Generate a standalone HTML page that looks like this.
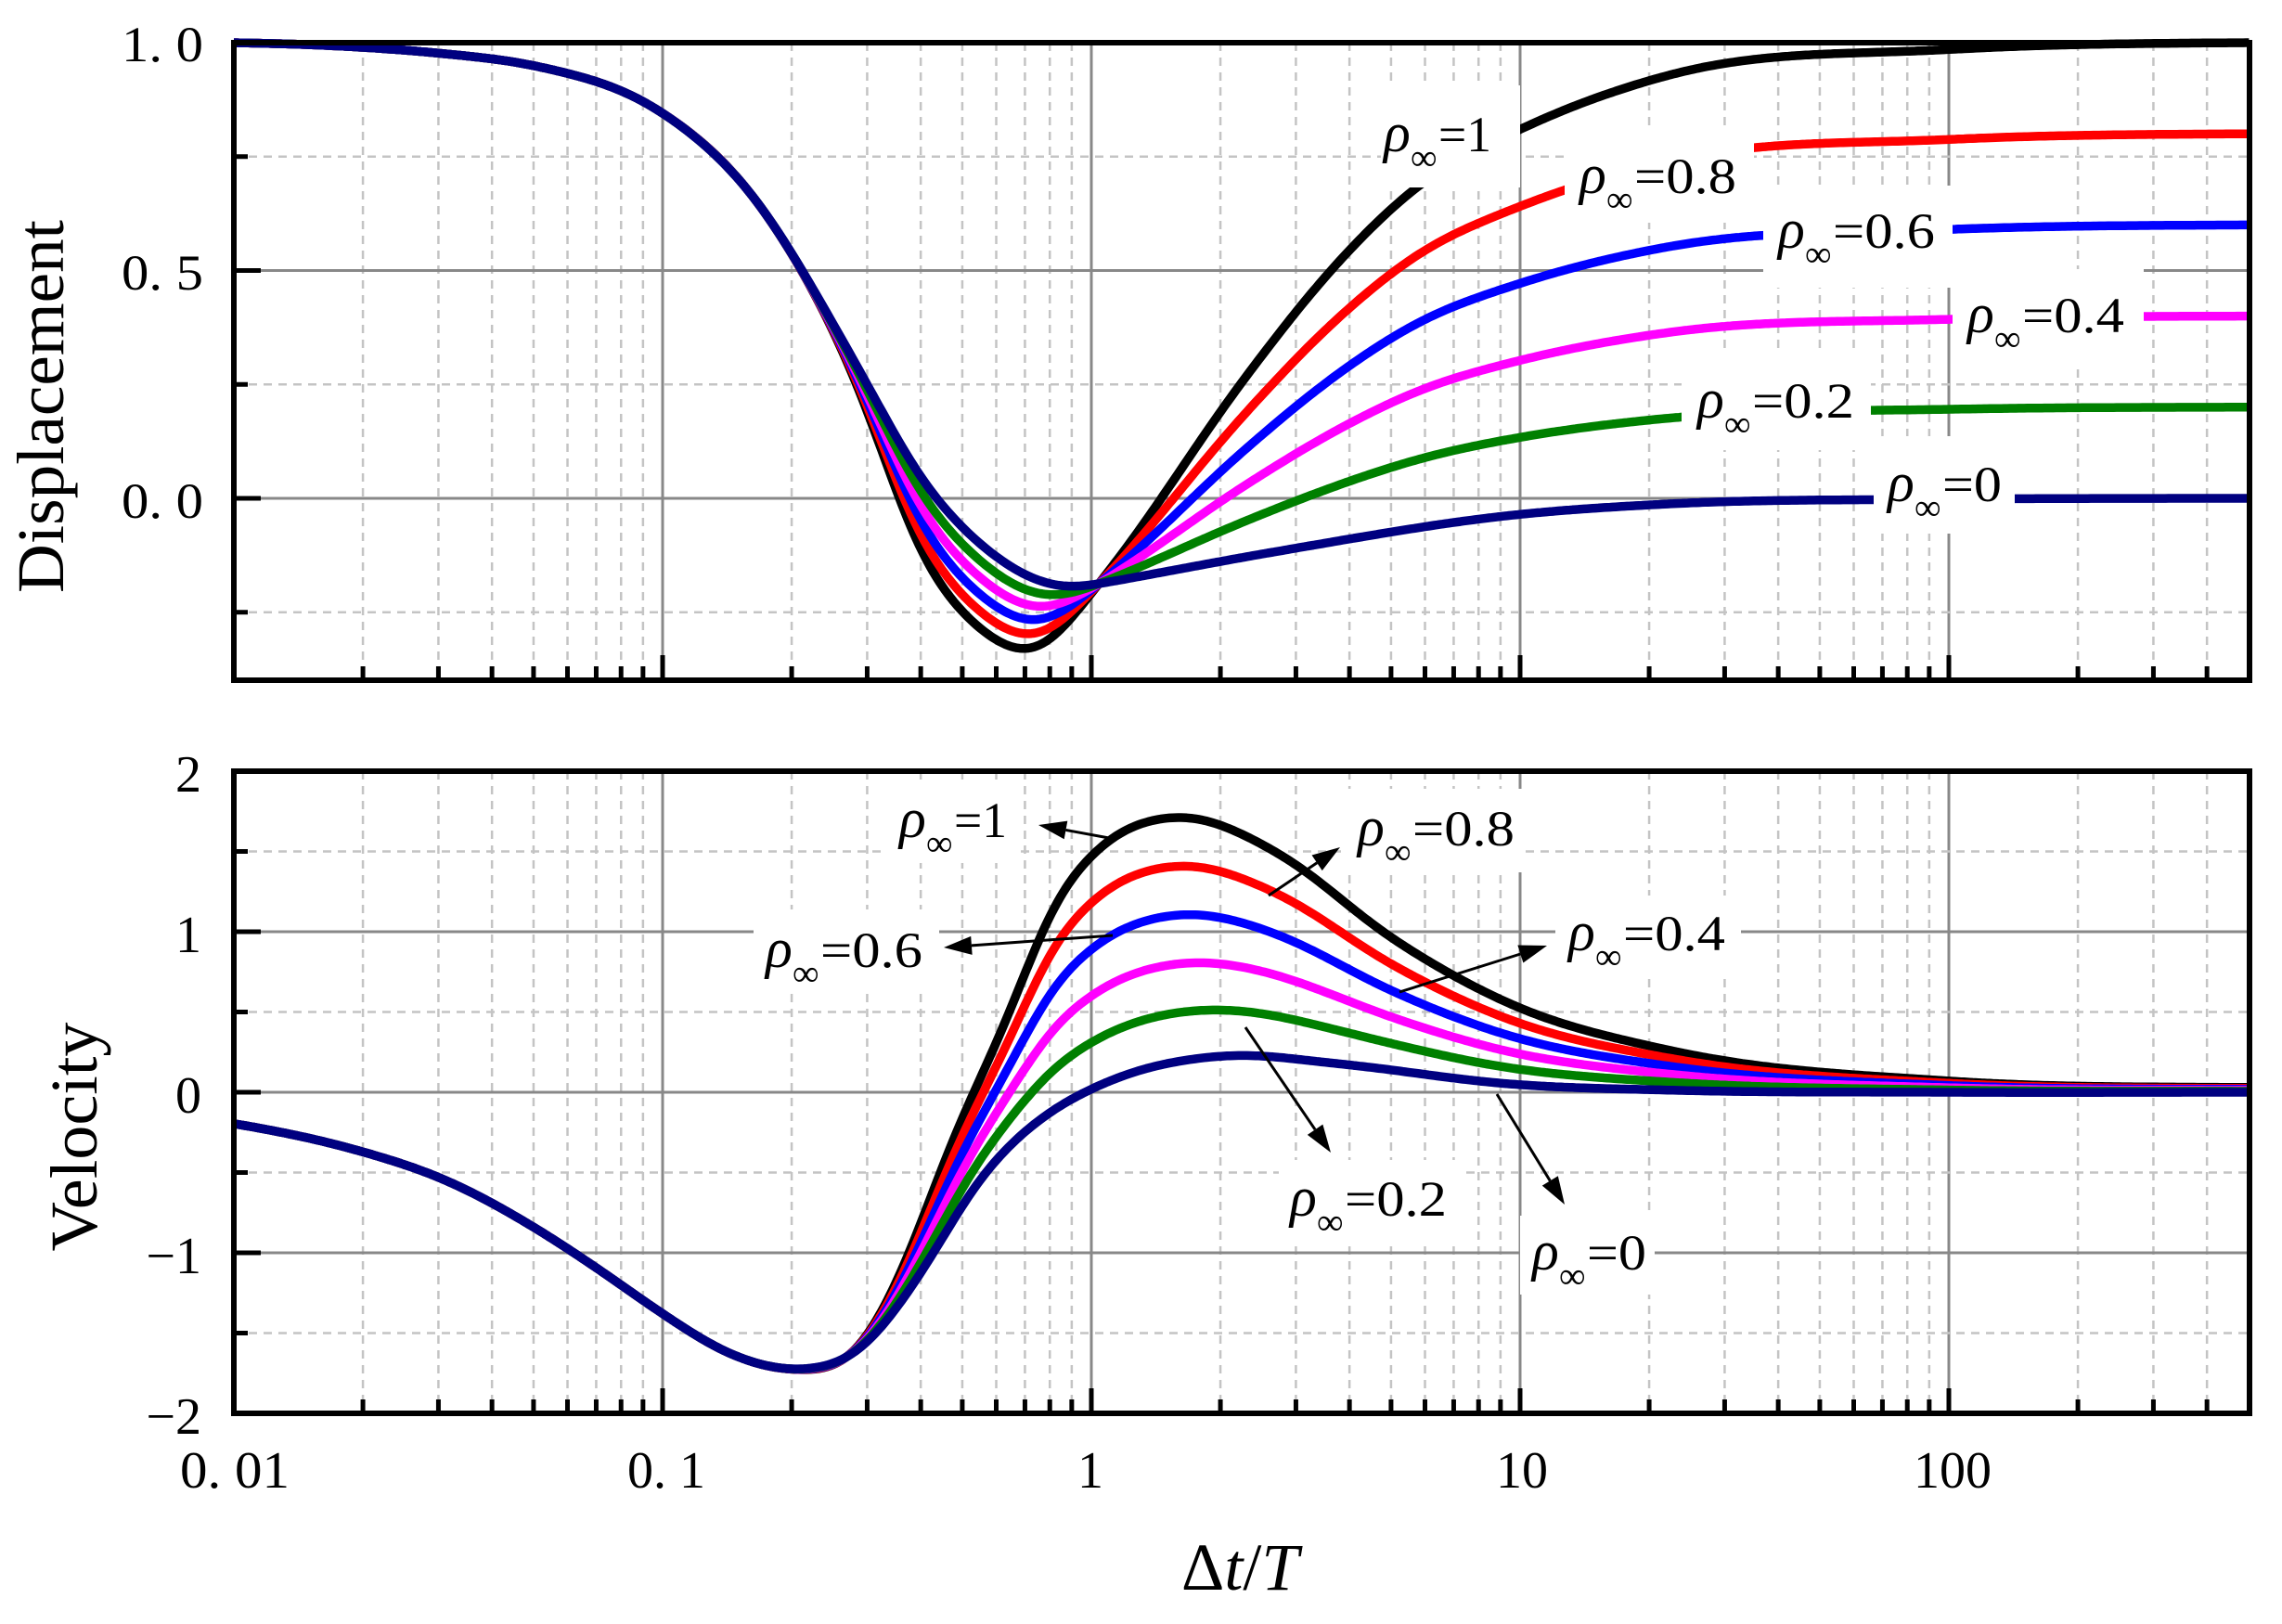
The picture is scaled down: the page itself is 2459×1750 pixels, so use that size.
<!DOCTYPE html>
<html><head><meta charset="utf-8"><style>
html,body{margin:0;padding:0;background:#fff;}
svg{display:block;}
text{font-family:"Liberation Serif",serif;fill:#000;}
</style></head><body>
<svg id="s" width="2459" height="1750" viewBox="0 0 2459 1750" xmlns="http://www.w3.org/2000/svg">
<rect width="2459" height="1750" fill="#fff"/>
<g id="grid"></g>
<g id="curves" fill="none" stroke-width="9.5" stroke-linejoin="round" stroke-linecap="butt"></g>
<g id="boxes" fill="#fff"></g>
<g id="axes"></g>

<g font-size="54" text-anchor="end">
<text x="219" y="66" textLength="88" lengthAdjust="spacingAndGlyphs">1. 0</text>
<text x="219" y="312" textLength="88" lengthAdjust="spacingAndGlyphs">0. 5</text>
<text x="219" y="558" textLength="88" lengthAdjust="spacingAndGlyphs">0. 0</text>
</g>
<g font-size="56" text-anchor="end">
<text x="217" y="853">2</text>
<text x="217" y="1026">1</text>
<text x="217" y="1199">0</text>
<text x="217" y="1372">−1</text>
<text x="217" y="1545">−2</text>
</g>
<g font-size="56" text-anchor="middle">
<text x="253" y="1603" textLength="118" lengthAdjust="spacingAndGlyphs">0. 01</text>
<text x="718" y="1603" textLength="84" lengthAdjust="spacingAndGlyphs">0. 1</text>
<text x="1175" y="1603">1</text>
<text x="1640" y="1603">10</text>
<text x="2104" y="1603">100</text>
</g>
<text font-size="72" transform="translate(68,438) rotate(-90)" text-anchor="middle" textLength="402" lengthAdjust="spacingAndGlyphs">Displacement</text>
<text font-size="72" transform="translate(104,1225) rotate(-90)" text-anchor="middle" textLength="247" lengthAdjust="spacingAndGlyphs">Velocity</text>
<text font-size="72" x="1273" y="1713">Δ<tspan font-style="italic">t</tspan>/<tspan font-style="italic">T</tspan></text>

<g id="labels"></g>
<g id="arrows" stroke="#000" stroke-width="3" fill="#000"></g>
</svg>
<script>
var NS="http://www.w3.org/2000/svg";
function el(tag,attrs,parent,txt){var e=document.createElementNS(NS,tag);for(var k in attrs)e.setAttribute(k,attrs[k]);if(txt!==undefined)e.textContent=txt;parent.appendChild(e);return e;}
var L=252,R=2424;
function X(u){return 1176+462*u;}
function YT(v){return 537-491*v;}
function YB(v){return 1177-173*v;}
var TT=46,TB=733,BT=831,BB=1523;
var grid=document.getElementById('grid'),axes=document.getElementById('axes');
for(var d=-2;d<=2;d++){for(var k=1;k<=9;k++){var u=d+Math.log10(k);var x=X(u);if(x<=L+2||x>=R-2)continue;
 var major=(k==1);
 [[TT,TB],[BT,BB]].forEach(function(r){
  el('line',{x1:x,y1:r[0],x2:x,y2:r[1],stroke:major?'#888':'#c4c4c4','stroke-width':major?3:2.5,'stroke-dasharray':major?'none':'9,7'},grid);
  el('line',{x1:x,y1:r[1],x2:x,y2:r[1]-(major?27:15),stroke:'#000','stroke-width':5},axes);
 });}}
[1.0,0.75,0.5,0.25,0,-0.25].forEach(function(v){var y=YT(v);var major=(Math.abs(v*2-Math.round(v*2))<1e-6);
 if(v<1)el('line',{x1:L,y1:y,x2:R,y2:y,stroke:major?'#888':'#c4c4c4','stroke-width':major?3:2.5,'stroke-dasharray':major?'none':'9,7'},grid);
 el('line',{x1:L,y1:y,x2:L+(major?29:15),y2:y,stroke:'#000','stroke-width':5},axes);});
[2,1.5,1,0.5,0,-0.5,-1,-1.5,-2].forEach(function(v){var y=YB(v);var major=(v==Math.round(v));
 if(v<2&&v>-2)el('line',{x1:L,y1:y,x2:R,y2:y,stroke:major?'#888':'#c4c4c4','stroke-width':major?3:2.5,'stroke-dasharray':major?'none':'9,7'},grid);
 el('line',{x1:L,y1:y,x2:L+(major?29:15),y2:y,stroke:'#000','stroke-width':5},axes);});
el('rect',{x:L,y:TT,width:R-L,height:TB-TT,fill:'none',stroke:'#000','stroke-width':6},axes);
el('rect',{x:L,y:BT,width:R-L,height:BB-BT,fill:'none',stroke:'#000','stroke-width':6},axes);

function interp(pts){var n=pts.length,m=[];
 for(var i=0;i<n;i++){
  if(i==0){m[i]=(pts[1][1]-pts[0][1])/(pts[1][0]-pts[0][0]);continue;}
  if(i==n-1){m[i]=(pts[i][1]-pts[i-1][1])/(pts[i][0]-pts[i-1][0]);continue;}
  var h1=pts[i][0]-pts[i-1][0],h2=pts[i+1][0]-pts[i][0];
  var s1=(pts[i][1]-pts[i-1][1])/h1,s2=(pts[i+1][1]-pts[i][1])/h2;
  m[i]=(s1*h2+s2*h1)/(h1+h2);}
 var f=function(u){if(u<pts[0][0])u=pts[0][0];if(u>pts[n-1][0])u=pts[n-1][0];var i=0;while(i<n-2&&u>pts[i+1][0])i++;var h=pts[i+1][0]-pts[i][0],t=(u-pts[i][0])/h;if(t<0)t=0;if(t>1)t=1;
  var t2=t*t,t3=t2*t;return (2*t3-3*t2+1)*pts[i][1]+(t3-2*t2+t)*h*m[i]+(-2*t3+3*t2)*pts[i+1][1]+(t3-t2)*h*m[i+1];};
 return function(u){var s=0,w=0;for(var j=-8;j<=8;j++){var ww=Math.exp(-j*j/12);s+=ww*f(u+j*0.018);w+=ww;}return s/w;};}
var dc=[[-2.3,1.0],[-2,1.0],[-1.7,0.99],[-1.5,0.975],[-1.3,0.95],[-1.0,0.847],[-0.81,0.69]];
var dB=interp(dc.concat([[-0.54,0.24],[-0.40,-0.12],[-0.262,-0.287],[-0.13,-0.338],[0.015,-0.19],[0.36,0.267],[0.567,0.51],[0.76,0.685],[1.0,0.81],[1.35,0.93],[2,0.985],[2.7,1.0],[3,1.0]]));
var dN=interp(dc.concat([[-0.54,0.28],[-0.40,0.045],[-0.262,-0.10],[-0.04,-0.197],[0.015,-0.188],[0.43,-0.117],[1,-0.035],[1.35,-0.012],[2,-0.002],[2.7,0],[3,0]]));
var vc=[[-2.3,-0.1],[-2,-0.195],[-1.70,-0.37],[-1.52,-0.53],[-1.30,-0.84],[-1.156,-1.09],[-1.0,-1.38],[-0.845,-1.63],[-0.697,-1.73]];
var vB=interp(vc.concat([[-0.538,-1.60],[-0.43,-1.05],[-0.33,-0.33],[-0.19,0.49],[-0.096,1.14],[0.014,1.52],[0.194,1.72],[0.43,1.50],[0.70,0.96],[0.98,0.545],[1.35,0.26],[2,0.07],[2.7,0.03],[3,0.03]]));
var vN=interp(vc.concat([[-0.538,-1.61],[-0.40,-1.14],[-0.262,-0.54],[-0.123,-0.17],[0.014,0.04],[0.318,0.23],[0.567,0.18],[0.98,0.05],[1.35,0.013],[2,0],[2.7,0],[3,0]]));
var cols=[[1,'#000'],[0.8,'#ff0000'],[0.6,'#0000ff'],[0.4,'#ff00ff'],[0.2,'#008000'],[0,'#000080']];
var cg=document.getElementById('curves');
cols.forEach(function(c){var r=c[0];var d1='',d2='';
 for(var i=0;i<=700;i++){var u=-2+4.7*i/700;
  var a=dN(u)+r*(dB(u)-dN(u)),b=vN(u)+r*(vB(u)-vN(u));
  d1+=(i?'L':'M')+X(u).toFixed(1)+','+YT(a).toFixed(1);
  d2+=(i?'L':'M')+X(u).toFixed(1)+','+YB(b).toFixed(1);}
 el('path',{d:d1,stroke:c[1]},cg);el('path',{d:d2,stroke:c[1]},cg);});
var bx=document.getElementById('boxes'),lg=document.getElementById('labels');
function label(x,y,s,w,box){ if(box)el('rect',{x:box[0],y:box[1],width:box[2],height:box[3]},bx);
 el('text',{x:x,y:y,'font-size':60,'font-style':'italic'},lg,'ρ');
 el('text',{x:x+29,y:y+20,'font-size':40},lg,'∞');
 el('text',{x:x+59,y:y,'font-size':54,textLength:w,lengthAdjust:'spacingAndGlyphs'},lg,s);}
label(1491,163,'=1',57,[1488,92,150,110]);
label(1702,208,'=0.8',110,[1686,140,204,100]);
label(1916,267,'=0.6',110,[1900,200,204,110]);
label(2120,358,'=0.4',110,[2104,290,206,105]);
label(1829,450,'=0.2',110,[1812,380,204,105]);
label(2034,540,'=0',64,[2019,470,152,105]);
label(969,902,'=1',57,[955,845,145,85]);
label(1463,911,'=0.8',110,[1450,850,190,90]);
label(825,1042,'=0.6',110,[812,980,200,90]);
label(1690,1024,'=0.4',110,[1676,965,200,85]);
label(1390,1310,'=0.2',110,[1378,1250,195,90]);
label(1651,1368,'=0',64,[1638,1310,145,85]);
var ag=document.getElementById('arrows');
function arrow(x1,y1,x2,y2){var dx=x2-x1,dy=y2-y1,l=Math.sqrt(dx*dx+dy*dy),ux=dx/l,uy=dy/l,h=30,w=10;
 var bx_=x2-ux*h,by_=y2-uy*h;
 el('line',{x1:x1,y1:y1,x2:bx_,y2:by_},ag);
 el('polygon',{points:x2+','+y2+' '+(bx_-uy*w)+','+(by_+ux*w)+' '+(bx_+uy*w)+','+(by_-ux*w),stroke:'none'},ag);}
arrow(1195,903,1119,889);
arrow(1367,965,1444,913);
arrow(1199,1008,1017,1021);
arrow(1508,1069,1667,1019);
arrow(1342,1107,1434,1242);
arrow(1613,1179,1686,1298);
</script>
</body></html>
